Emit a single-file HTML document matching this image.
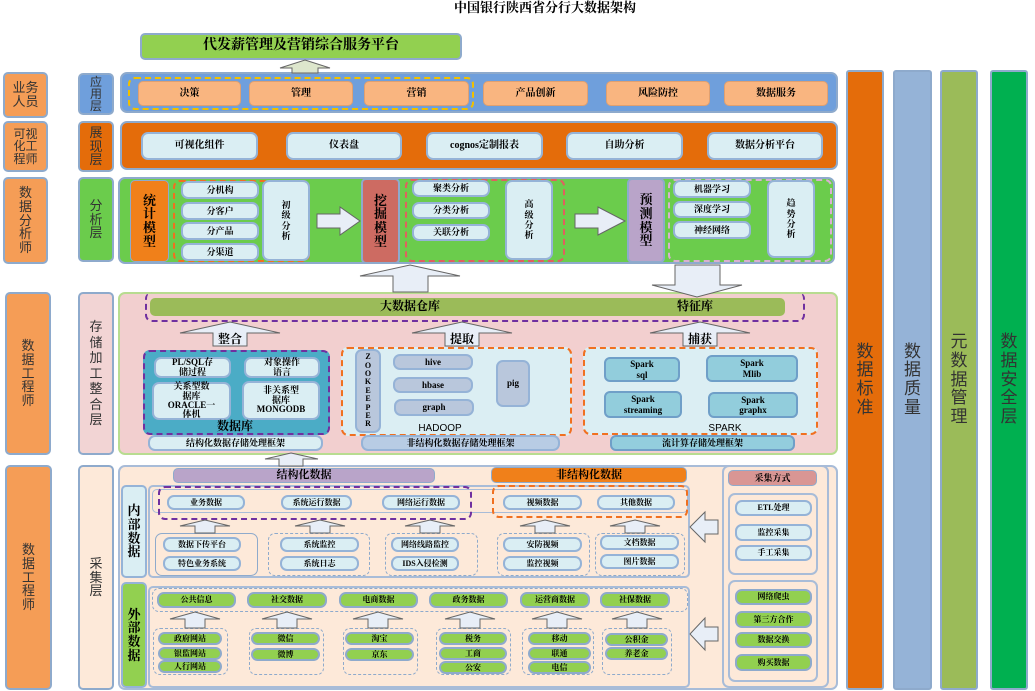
<!DOCTYPE html>
<html><head><meta charset="utf-8"><style>
*{margin:0;padding:0;box-sizing:border-box}
body{width:1035px;height:691px;background:#fff;position:relative;overflow:hidden;font-family:"Liberation Serif","Noto Serif CJK SC",serif}
.b{position:absolute;display:flex;align-items:center;justify-content:center;text-align:center;border-radius:5px;line-height:1.15}
.i{background:#daeef3;border:2px solid #95b3d7;font-size:9px;font-weight:bold;border-radius:7px}
.g{background:#92d050;border:2px solid #8eaacc;font-size:9px;font-weight:bold;border-radius:7px}
.o{background:#f9b580;border:1px solid #e0a070;font-size:10px;font-weight:bold;border-radius:5px}
.h{background:#b9c7dc;border:2px solid #95b3d7;font-size:9px;font-weight:bold;border-radius:7px}
.s{background:#92cddc;border:2px solid #6f9fc8;font-size:9px;font-weight:bold;border-radius:6px}
.d{position:absolute;border-radius:7px}
.role{background:#f59d56;border:2px solid #8eaacc;font-family:"Liberation Sans","Noto Sans CJK SC",sans-serif;font-size:13px;color:#333;line-height:1.05}
.lay{border:2px solid #8eaacc;font-family:"Liberation Sans","Noto Sans CJK SC",sans-serif;font-size:13px;color:#333;line-height:1.05}
.bar{font-family:"Liberation Sans","Noto Sans CJK SC",sans-serif;font-size:17px;color:#333;border:2px solid #8eaacc;border-radius:3px;line-height:1.1}
</style></head><body>
<div class="b" style="left:380px;top:0;width:330px;height:16px;font-size:13px;font-weight:bold">中国银行陕西省分行大数据架构</div>
<div class="b" style="left:140px;top:33px;width:322px;height:27px;background:#92d050;border:2px solid #8eaacc;font-size:14px;font-weight:bold">代发薪管理及营销综合服务平台</div>

<div class="b role" style="left:3px;top:72px;width:45px;height:46px">业务<br>人员</div>
<div class="b role" style="left:3px;top:121px;width:45px;height:51px;font-size:12px">可视<br>化工<br>程师</div>
<div class="b role" style="left:3px;top:177px;width:45px;height:87px">数<br>据<br>分<br>析<br>师</div>
<div class="b role" style="left:5px;top:292px;width:46px;height:163px">数<br>据<br>工<br>程<br>师</div>
<div class="b role" style="left:5px;top:465px;width:47px;height:225px">数<br>据<br>工<br>程<br>师</div>

<div class="b lay" style="left:78px;top:73px;width:36px;height:42px;background:#6f9fdc;font-size:12px;line-height:1">应<br>用<br>层</div>
<div class="b lay" style="left:78px;top:121px;width:36px;height:51px;background:#e46c0a">展<br>现<br>层</div>
<div class="b lay" style="left:78px;top:177px;width:36px;height:85px;background:#6bcc4c">分<br>析<br>层</div>
<div class="b lay" style="left:78px;top:292px;width:36px;height:163px;background:#f2d4d4;line-height:1.2">存<br>储<br>加<br>工<br>整<br>合<br>层</div>
<div class="b lay" style="left:78px;top:465px;width:36px;height:225px;background:#fde9d9">采<br>集<br>层</div>

<div class="d" style="left:120px;top:72px;width:718px;height:41px;background:#6f9fdc;border:2px solid #8eaacc"></div>
<div class="d" style="left:128px;top:77px;width:346px;height:33px;border:2px dashed #f0c000"></div>
<div class="b o" style="left:138px;top:81px;width:103px;height:25px">决策</div>
<div class="b o" style="left:249px;top:81px;width:104px;height:25px">管理</div>
<div class="b o" style="left:364px;top:81px;width:105px;height:25px">营销</div>
<div class="b o" style="left:483px;top:81px;width:105px;height:25px">产品创新</div>
<div class="b o" style="left:606px;top:81px;width:104px;height:25px">风险防控</div>
<div class="b o" style="left:724px;top:81px;width:104px;height:25px">数据服务</div>

<div class="d" style="left:120px;top:121px;width:718px;height:49px;background:#e46c0a;border:2px solid #8eaacc"></div>
<div class="b i" style="left:141px;top:132px;width:117px;height:28px;font-size:10px">可视化组件</div>
<div class="b i" style="left:286px;top:132px;width:116px;height:28px;font-size:10px">仪表盘</div>
<div class="b i" style="left:426px;top:132px;width:117px;height:28px;font-size:10px">cognos定制报表</div>
<div class="b i" style="left:566px;top:132px;width:117px;height:28px;font-size:10px">自助分析</div>
<div class="b i" style="left:707px;top:132px;width:116px;height:28px;font-size:10px">数据分析平台</div>

<div class="d" style="left:118px;top:177px;width:717px;height:87px;background:#6bcc4c;border:2px solid #8eaacc"></div>
<div class="b" style="left:130px;top:180px;width:39px;height:82px;background:#f0801a;border:1px solid #8eaacc;font-size:13px;font-weight:bold;line-height:1.05">统<br>计<br>模<br>型</div>
<div class="d" style="left:173px;top:180px;width:137px;height:82px;border:2px dashed #f07020"></div>
<div class="b i" style="left:181px;top:181px;width:78px;height:18px">分机构</div>
<div class="b i" style="left:181px;top:202px;width:78px;height:18px">分客户</div>
<div class="b i" style="left:181px;top:222px;width:78px;height:18px">分产品</div>
<div class="b i" style="left:181px;top:243px;width:78px;height:18px">分渠道</div>
<div class="b i" style="left:262px;top:180px;width:48px;height:81px">初<br>级<br>分<br>析</div>
<div class="b" style="left:361px;top:178px;width:39px;height:86px;background:#cd6b62;border:2px solid #8eaacc;font-size:13px;font-weight:bold;line-height:1.05">挖<br>掘<br>模<br>型</div>
<div class="d" style="left:405px;top:179px;width:160px;height:83px;border:2px dashed #e06060"></div>
<div class="b i" style="left:412px;top:180px;width:78px;height:17px">聚类分析</div>
<div class="b i" style="left:412px;top:202px;width:78px;height:17px">分类分析</div>
<div class="b i" style="left:412px;top:224px;width:78px;height:17px">关联分析</div>
<div class="b i" style="left:505px;top:180px;width:48px;height:80px">高<br>级<br>分<br>析</div>
<div class="b" style="left:627px;top:178px;width:38px;height:85px;background:#b9a4c9;border:2px solid #8eaacc;font-size:13px;font-weight:bold;line-height:1.05">预<br>测<br>模<br>型</div>
<div class="d" style="left:668px;top:179px;width:164px;height:83px;border:2px dashed #d8b0d0"></div>
<div class="b i" style="left:673px;top:180px;width:78px;height:18px">机器学习</div>
<div class="b i" style="left:673px;top:201px;width:78px;height:17px">深度学习</div>
<div class="b i" style="left:673px;top:221px;width:78px;height:18px">神经网络</div>
<div class="b i" style="left:767px;top:180px;width:48px;height:78px">趋<br>势<br>分<br>析</div>

<div class="d" style="left:118px;top:292px;width:720px;height:163px;background:#f2cfcf;border:2px solid #b8dc90"></div>
<div class="d" style="left:145px;top:292px;width:660px;height:30px;border:2px dashed #7030a0;border-top:none"></div>
<div class="d" style="left:150px;top:298px;width:635px;height:18px;background:#9bbb59;border-radius:5px"></div>
<div class="b" style="left:360px;top:298px;width:100px;height:18px;font-size:12px;font-weight:bold">大数据仓库</div>
<div class="b" style="left:660px;top:298px;width:70px;height:18px;font-size:12px;font-weight:bold">特征库</div>

<div class="d" style="left:143px;top:350px;width:187px;height:85px;background:#4bacc6;border:2px dashed #7030a0"></div>
<div class="b i" style="left:154px;top:357px;width:77px;height:21px;line-height:1.1">PL/SQL存<br>储过程</div>
<div class="b i" style="left:244px;top:357px;width:76px;height:21px;line-height:1.1">对象操作<br>语言</div>
<div class="b i" style="left:152px;top:382px;width:79px;height:38px;line-height:1.05">关系型数<br>据库<br>ORACLE一<br>体机</div>
<div class="b i" style="left:242px;top:381px;width:78px;height:39px;line-height:1.1">非关系型<br>据库<br>MONGODB</div>
<div class="b" style="left:200px;top:420px;width:70px;height:14px;font-size:12px;font-weight:bold">数据库</div>

<div class="d" style="left:341px;top:347px;width:231px;height:89px;background:#dbeef3;border:2px dashed #f07020"></div>
<div class="b h" style="left:355px;top:349px;width:26px;height:84px;font-size:8px;line-height:1.05">Z<br>O<br>O<br>K<br>E<br>E<br>P<br>E<br>R</div>
<div class="b h" style="left:393px;top:354px;width:80px;height:16px">hive</div>
<div class="b h" style="left:393px;top:377px;width:80px;height:16px">hbase</div>
<div class="b h" style="left:394px;top:399px;width:80px;height:17px">graph</div>
<div class="b h" style="left:496px;top:360px;width:34px;height:47px">pig</div>
<div class="b" style="left:410px;top:423px;width:60px;height:12px;font-size:10px;font-family:'Liberation Sans',sans-serif">HADOOP</div>

<div class="d" style="left:583px;top:347px;width:235px;height:88px;background:#dbeef3;border:2px dashed #f07020"></div>
<div class="b s" style="left:604px;top:357px;width:76px;height:25px">Spark<br>sql</div>
<div class="b s" style="left:706px;top:355px;width:92px;height:27px">Spark<br>Mlib</div>
<div class="b s" style="left:604px;top:391px;width:78px;height:27px">Spark<br>streaming</div>
<div class="b s" style="left:708px;top:392px;width:90px;height:26px">Spark<br>graphx</div>
<div class="b" style="left:700px;top:423px;width:50px;height:12px;font-size:10px;font-family:'Liberation Sans',sans-serif">SPARK</div>

<div class="b i" style="left:148px;top:435px;width:175px;height:16px">结构化数据存储处理框架</div>
<div class="b" style="left:361px;top:435px;width:199px;height:16px;background:#b8cce4;border:2px solid #95b3d7;border-radius:7px;font-size:9px;font-weight:bold">非结构化数据存储处理框架</div>
<div class="b s" style="left:610px;top:435px;width:185px;height:16px;background:#93cddd">流计算存储处理框架</div>

<div class="d" style="left:118px;top:465px;width:720px;height:225px;background:#fde9d9;border:2px solid #a8bcd8"></div>
<div class="b" style="left:173px;top:468px;width:262px;height:15px;background:#b9a4c9;border:1px solid #8eaacc;font-size:11px;font-weight:bold">结构化数据</div>
<div class="b" style="left:491px;top:467px;width:196px;height:16px;background:#f0801a;border:1px solid #8eaacc;font-size:11px;font-weight:bold">非结构化数据</div>
<div class="b" style="left:121px;top:485px;width:26px;height:93px;background:#daeef3;border:2px solid #95b3d7;font-size:13px;font-weight:bold;line-height:1.05">内<br>部<br>数<br>据</div>
<div class="d" style="left:148px;top:485px;width:542px;height:93px;border:2px solid #a8bcd8;border-radius:5px"></div>
<div class="d" style="left:152px;top:489px;width:536px;height:24px;border:1px solid #a8bcd8;border-radius:5px"></div>
<div class="d" style="left:158px;top:486px;width:314px;height:34px;border:2px dashed #7030a0"></div>
<div class="d" style="left:492px;top:485px;width:196px;height:33px;border:2px dashed #f07020"></div>
<div class="b i" style="left:167px;top:495px;width:78px;height:15px;font-size:8px">业务数据</div>
<div class="b i" style="left:281px;top:495px;width:71px;height:15px;font-size:8px">系统运行数据</div>
<div class="b i" style="left:382px;top:495px;width:78px;height:15px;font-size:8px">网络运行数据</div>
<div class="b i" style="left:503px;top:495px;width:79px;height:15px;font-size:8px">视频数据</div>
<div class="b i" style="left:597px;top:495px;width:78px;height:15px;font-size:8px">其他数据</div>

<div class="d" style="left:155px;top:533px;width:103px;height:43px;border:1px solid #8eaacc"></div>
<div class="d" style="left:268px;top:533px;width:102px;height:43px;border:1px dashed #8eaacc"></div>
<div class="d" style="left:385px;top:533px;width:93px;height:43px;border:1px dashed #8eaacc"></div>
<div class="d" style="left:497px;top:533px;width:93px;height:43px;border:1px dashed #8eaacc"></div>
<div class="d" style="left:595px;top:533px;width:90px;height:43px;border:1px dashed #8eaacc"></div>
<div class="b i" style="left:163px;top:537px;width:78px;height:15px;font-size:8px">数据下传平台</div>
<div class="b i" style="left:163px;top:556px;width:78px;height:15px;font-size:8px">特色业务系统</div>
<div class="b i" style="left:280px;top:537px;width:79px;height:15px;font-size:8px">系统监控</div>
<div class="b i" style="left:280px;top:556px;width:79px;height:15px;font-size:8px">系统日志</div>
<div class="b i" style="left:391px;top:537px;width:68px;height:15px;font-size:8px">网络线路监控</div>
<div class="b i" style="left:391px;top:556px;width:68px;height:15px;font-size:8px">IDS入侵检测</div>
<div class="b i" style="left:503px;top:537px;width:79px;height:15px;font-size:8px">安防视频</div>
<div class="b i" style="left:503px;top:556px;width:79px;height:15px;font-size:8px">监控视频</div>
<div class="b i" style="left:600px;top:535px;width:79px;height:15px;font-size:8px">文档数据</div>
<div class="b i" style="left:600px;top:554px;width:79px;height:15px;font-size:8px">图片数据</div>

<div class="b" style="left:121px;top:582px;width:26px;height:106px;background:#92d050;border:2px solid #95b3d7;font-size:13px;font-weight:bold;line-height:1.05">外<br>部<br>数<br>据</div>
<div class="d" style="left:148px;top:586px;width:542px;height:102px;border:2px solid #a8bcd8;border-radius:5px"></div>
<div class="d" style="left:152px;top:588px;width:536px;height:24px;border:1px dashed #8eaacc"></div>
<div class="b g" style="left:157px;top:592px;width:79px;height:16px;font-size:8px">公共信息</div>
<div class="b g" style="left:247px;top:592px;width:80px;height:16px;font-size:8px">社交数据</div>
<div class="b g" style="left:339px;top:592px;width:79px;height:16px;font-size:8px">电商数据</div>
<div class="b g" style="left:429px;top:592px;width:79px;height:16px;font-size:8px">政务数据</div>
<div class="b g" style="left:520px;top:592px;width:70px;height:16px;font-size:8px">运营商数据</div>
<div class="b g" style="left:600px;top:592px;width:70px;height:16px;font-size:8px">社保数据</div>

<div class="d" style="left:153px;top:628px;width:75px;height:47px;border:1px dashed #8eaacc"></div>
<div class="d" style="left:249px;top:628px;width:75px;height:47px;border:1px dashed #8eaacc"></div>
<div class="d" style="left:343px;top:628px;width:75px;height:47px;border:1px dashed #8eaacc"></div>
<div class="d" style="left:436px;top:628px;width:75px;height:47px;border:1px dashed #8eaacc"></div>
<div class="d" style="left:522px;top:628px;width:72px;height:47px;border:1px dashed #8eaacc"></div>
<div class="d" style="left:602px;top:628px;width:70px;height:47px;border:1px dashed #8eaacc"></div>
<div class="b g" style="left:158px;top:632px;width:64px;height:13px;font-size:8px">政府网站</div>
<div class="b g" style="left:158px;top:647px;width:64px;height:13px;font-size:8px">银监网站</div>
<div class="b g" style="left:158px;top:660px;width:64px;height:13px;font-size:8px">人行网站</div>
<div class="b g" style="left:251px;top:632px;width:69px;height:13px;font-size:8px">微信</div>
<div class="b g" style="left:251px;top:648px;width:69px;height:13px;font-size:8px">微博</div>
<div class="b g" style="left:345px;top:632px;width:69px;height:13px;font-size:8px">淘宝</div>
<div class="b g" style="left:345px;top:648px;width:69px;height:13px;font-size:8px">京东</div>
<div class="b g" style="left:439px;top:632px;width:68px;height:13px;font-size:8px">税务</div>
<div class="b g" style="left:439px;top:647px;width:68px;height:13px;font-size:8px">工商</div>
<div class="b g" style="left:439px;top:661px;width:68px;height:13px;font-size:8px">公安</div>
<div class="b g" style="left:528px;top:632px;width:63px;height:13px;font-size:8px">移动</div>
<div class="b g" style="left:528px;top:647px;width:63px;height:13px;font-size:8px">联通</div>
<div class="b g" style="left:528px;top:661px;width:63px;height:13px;font-size:8px">电信</div>
<div class="b g" style="left:605px;top:633px;width:63px;height:13px;font-size:8px">公积金</div>
<div class="b g" style="left:605px;top:647px;width:63px;height:13px;font-size:8px">养老金</div>

<div class="d" style="left:722px;top:465px;width:107px;height:223px;border:2px solid #a8bcd8"></div>
<div class="b" style="left:728px;top:470px;width:89px;height:16px;background:#d99694;border:1px solid #8eaacc;font-size:9px;font-weight:bold">采集方式</div>
<div class="d" style="left:728px;top:493px;width:90px;height:82px;border:2px solid #a8bcd8"></div>
<div class="b i" style="left:735px;top:500px;width:77px;height:16px;font-size:8px">ETL处理</div>
<div class="b i" style="left:735px;top:524px;width:77px;height:17px;font-size:8px">监控采集</div>
<div class="b i" style="left:735px;top:545px;width:77px;height:16px;font-size:8px">手工采集</div>
<div class="d" style="left:728px;top:580px;width:90px;height:102px;border:2px solid #a8bcd8"></div>
<div class="b g" style="left:735px;top:589px;width:77px;height:16px;font-size:8px">网络爬虫</div>
<div class="b g" style="left:735px;top:611px;width:77px;height:17px;font-size:8px">第三方合作</div>
<div class="b g" style="left:735px;top:632px;width:77px;height:16px;font-size:8px">数据交换</div>
<div class="b g" style="left:735px;top:654px;width:77px;height:17px;font-size:8px">购买数据</div>

<div class="b bar" style="left:846px;top:70px;width:38px;height:620px;background:#e46c0a">数<br>据<br>标<br>准</div>
<div class="b bar" style="left:893px;top:70px;width:39px;height:620px;background:#95b3d7">数<br>据<br>质<br>量</div>
<div class="b bar" style="left:940px;top:70px;width:38px;height:620px;background:#9bbb59">元<br>数<br>据<br>管<br>理</div>
<div class="b bar" style="left:990px;top:70px;width:38px;height:620px;background:#00b050">数<br>据<br>安<br>全<br>层</div>

<svg style="position:absolute;left:0;top:0" width="1035" height="691">
<g stroke="#666" stroke-width="1" fill="#e8eef7">
<polygon fill="#dde6cc" points="305,60 330,68 318,68 318,73 292,73 292,68 280,68"/>
<polygon points="317,214 340,214 340,207 360,221 340,235 340,228 317,228"/>
<polygon points="575,214 598,214 598,207 625,221 598,235 598,228 575,228"/>
<polygon points="410,265 460,276 428,276 428,292 393,292 393,276 360,276"/>
<polygon points="675,265 720,265 720,285 742,285 697,297 652,285 675,285"/>
<polygon points="230,322 280,333 247,333 247,346 213,346 213,333 180,333"/>
<polygon points="462,322 512,333 479,333 479,346 445,346 445,333 412,333"/>
<polygon points="700,322 750,333 717,333 717,346 683,346 683,333 650,333"/>
<polygon points="291,453 318,459 303,459 303,466 279,466 279,459 265,459"/>
<polygon points="205,520 230,526 215,526 215,533 195,533 195,526 180,526"/>
<polygon points="320,520 345,526 330,526 330,533 310,533 310,526 295,526"/>
<polygon points="430,520 455,526 440,526 440,533 420,533 420,526 405,526"/>
<polygon points="545,520 570,526 555,526 555,533 535,533 535,526 520,526"/>
<polygon points="635,520 660,526 645,526 645,533 625,533 625,526 610,526"/>
<polygon points="195,612 220,619 205,619 205,628 185,628 185,619 170,619"/>
<polygon points="287,612 312,619 297,619 297,628 277,628 277,619 262,619"/>
<polygon points="378,612 403,619 388,619 388,628 368,628 368,619 353,619"/>
<polygon points="470,612 495,619 480,619 480,628 460,628 460,619 445,619"/>
<polygon points="557,612 582,619 567,619 567,628 547,628 547,619 532,619"/>
<polygon points="637,612 662,619 647,619 647,628 627,628 627,619 612,619"/>
<polygon points="690,527 705,512 705,520 718,520 718,534 705,534 705,542"/>
<polygon points="690,634 705,618 705,627 718,627 718,641 705,641 705,650"/>
</g>
<g font-family="Liberation Serif,Noto Serif CJK SC,serif" font-size="12" font-weight="bold" text-anchor="middle" fill="#000">
<text x="230" y="343">整合</text><text x="462" y="343">提取</text><text x="700" y="343">捕获</text>
</g>
</svg>
</body></html>
